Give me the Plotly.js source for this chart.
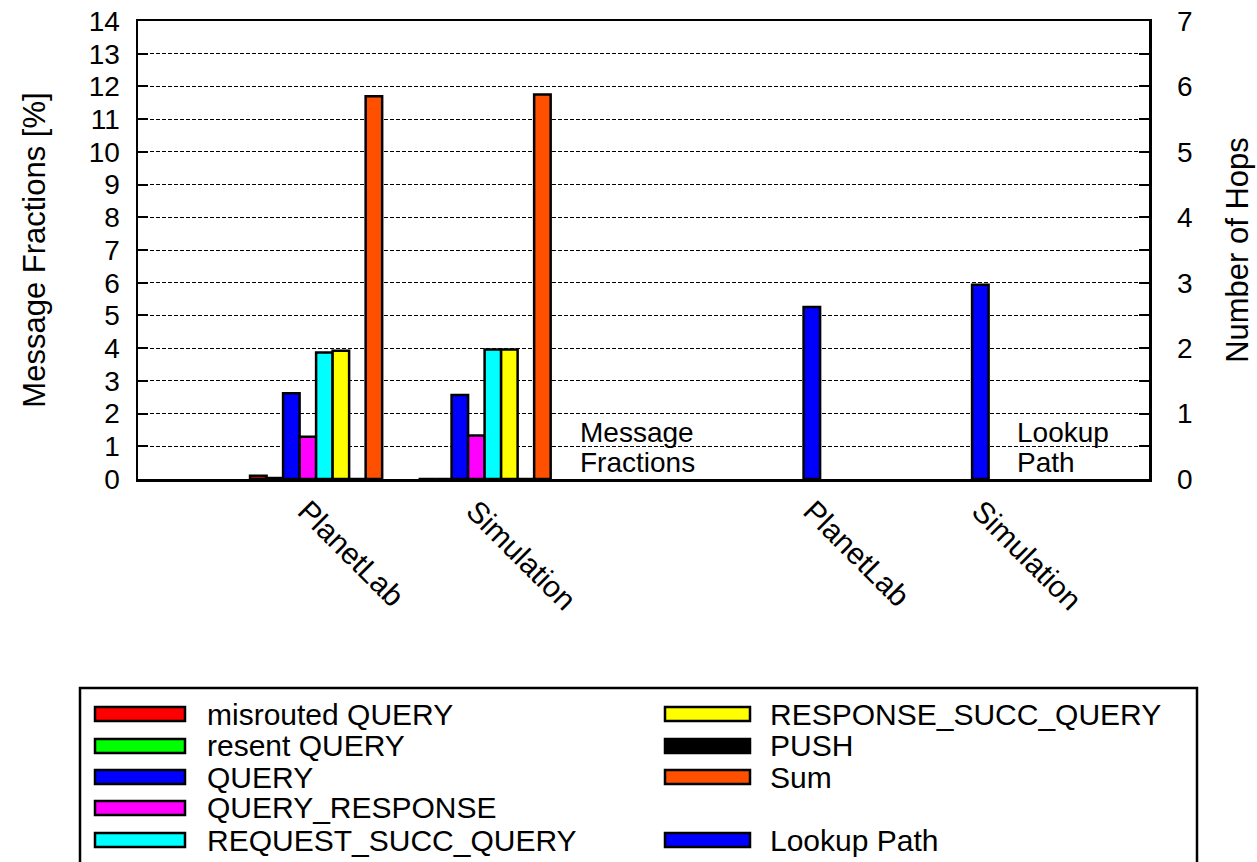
<!DOCTYPE html>
<html>
<head>
<meta charset="utf-8">
<script src="https://cdn.plot.ly/plotly-3.0.1.min.js"></script>
<style>
  html, body { margin: 0; padding: 0; background: #ffffff; }
  #chart { width: 1257px; height: 862px; }
</style>
</head>
<body>
<div id="chart"></div>
<script>
// Measurement setups on the x axis
const categories = ["PlanetLab", "Simulation"];

// Message fractions [%] per message type
const misroutedQuery    = [0.10, 0.00];
const resentQuery       = [0.03, 0.00];
const query             = [2.62, 2.57];
const queryResponse     = [1.29, 1.33];
const requestSuccQuery  = [3.87, 3.96];
const responseSuccQuery = [3.92, 3.96];
const push              = [0.00, 0.00];
const sum               = [11.70, 11.75];

// Mean lookup path length (number of hops)
const lookupPath = [2.63, 2.97];

const messageSeries = [
  { name: "misrouted QUERY",     values: misroutedQuery,    color: "#ff0000" },
  { name: "resent QUERY",        values: resentQuery,       color: "#00ff00" },
  { name: "QUERY",               values: query,             color: "#0000ff" },
  { name: "QUERY_RESPONSE",      values: queryResponse,     color: "#ff00ff" },
  { name: "REQUEST_SUCC_QUERY",  values: requestSuccQuery,  color: "#00ffff" },
  { name: "RESPONSE_SUCC_QUERY", values: responseSuccQuery, color: "#ffff00" },
  { name: "PUSH",                values: push,              color: "#000000" },
  { name: "Sum",                 values: sum,               color: "#ff5000" }
];
const hopSeries = { name: "Lookup Path", values: lookupPath, color: "#0000ff" };

// Slot positions of the two histogram blocks on the x axis
const msgSlots = [1, 2];
const hopSlots = [4, 5];
const barW = 0.098;
const firstOffset = -0.335;

const FONT = "Liberation Sans, Arial, Helvetica, sans-serif";
const outline = { color: "#000000", width: 2.5 };

const traces = messageSeries.map((s, i) => ({
  type: "bar",
  name: s.name,
  x: msgSlots,
  y: s.values,
  width: barW,
  offset: firstOffset + i * barW,
  marker: { color: s.color, line: outline },
  showlegend: false,
  hoverinfo: "name+y"
}));
traces.push({
  type: "bar",
  name: hopSeries.name,
  x: hopSlots,
  y: hopSeries.values,
  width: barW,
  offset: -0.05,
  yaxis: "y2",
  marker: { color: hopSeries.color, line: outline },
  showlegend: false,
  hoverinfo: "name+y"
});

// Plot area in pixels
const L = 138, R = 1149, T = 21, B = 479;
const px = v => (v - L) / (R - L);
const py = v => (B - v) / (B - T);

// Legend box drawn as a layout element, two columns
const shapes = [{
  type: "rect", xref: "paper", yref: "paper",
  x0: px(80), x1: px(1197), y0: py(872), y1: py(688),
  line: { color: "#000000", width: 2.5 }, fillcolor: "rgba(0,0,0,0)"
}];
const annotations = [];
const rowY = [714, 746, 777, 808, 840];
const columns = [
  { swatch: [95, 185], text: 205,
    items: messageSeries.slice(0, 5).map((s, k) => ({ s, row: k })) },
  { swatch: [665, 750], text: 768,
    items: messageSeries.slice(5).map((s, k) => ({ s, row: k })).concat([{ s: hopSeries, row: 4 }]) }
];
columns.forEach(col => {
  col.items.forEach(({ s, row }) => {
    const yc = rowY[row];
    shapes.push({
      type: "rect", xref: "paper", yref: "paper",
      x0: px(col.swatch[0]), x1: px(col.swatch[1]),
      y0: py(yc + 7), y1: py(yc - 7),
      fillcolor: s.color, line: { color: "#000000", width: 2.5 }
    });
    annotations.push({
      xref: "paper", yref: "paper", x: px(col.text), y: py(yc),
      xanchor: "left", yanchor: "middle", showarrow: false,
      text: s.name, font: { family: FONT, size: 30, color: "#000000" }
    });
  });
});

// Block labels inside the plot, one line at a time
[[["Message", "Fractions"], 578], [["Lookup", "Path"], 1015]].forEach(([lines, x]) => {
  lines.forEach((t, k) => {
    annotations.push({
      xref: "paper", yref: "paper", x: px(x), y: py(432 + 30 * k),
      xanchor: "left", yanchor: "middle", align: "left", showarrow: false,
      text: t, font: { family: FONT, size: 28, color: "#000000" }
    });
  });
});

const layout = {
  width: 1257, height: 862,
  margin: { l: L, r: 1257 - R, t: T, b: 862 - B },
  paper_bgcolor: "#ffffff", plot_bgcolor: "#ffffff",
  font: { family: FONT, size: 28, color: "#000000" },
  barmode: "overlay",
  showlegend: false,
  xaxis: {
    range: [0, 6],
    tickvals: msgSlots.concat(hopSlots),
    ticktext: categories.concat(categories),
    tickangle: 45,
    ticks: "",
    showgrid: false, zeroline: false,
    showline: true, linecolor: "#000000", linewidth: 2.5, mirror: true,
    tickfont: { family: FONT, size: 30 }
  },
  yaxis: {
    range: [0, 14], dtick: 1,
    ticks: "inside", ticklen: 10, tickwidth: 2, tickcolor: "#000000",
    showline: true, linecolor: "#000000", linewidth: 2.5, mirror: "ticks",
    showgrid: true, gridcolor: "#000000", gridwidth: 1, griddash: "4px,2px",
    zeroline: false,
    ticklabelstandoff: 10,
    tickfont: { family: FONT, size: 28 },
    title: { text: "Message Fractions [%]", font: { family: FONT, size: 31 }, standoff: 34 }
  },
  yaxis2: {
    overlaying: "y", side: "right",
    range: [0, 7], dtick: 1,
    ticks: "", showgrid: false, zeroline: false, showline: false,
    ticklabelstandoff: 27,
    tickfont: { family: FONT, size: 28 },
    title: { text: "Number of Hops", font: { family: FONT, size: 31 }, standoff: 34 }
  },
  shapes: shapes,
  annotations: annotations
};

Plotly.newPlot("chart", traces, layout, { displayModeBar: false, staticPlot: true });
</script>
</body>
</html>
